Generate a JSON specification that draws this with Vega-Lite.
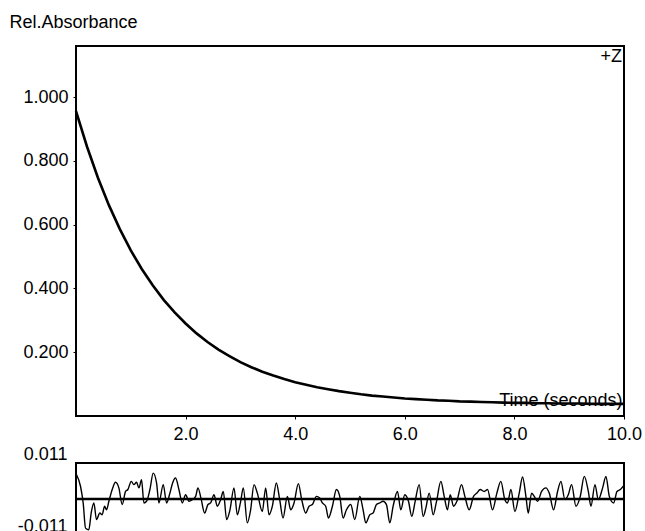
{
  "$schema": "https://vega.github.io/schema/vega-lite/v6.json",
  "background": "white",
  "padding": {"left": 8, "top": 12, "right": 0, "bottom": 0},
  "spacing": 47,
  "bounds": "flush",
  "config": {
    "font": "Liberation Sans",
    "view": {"stroke": "black", "strokeWidth": 2},
    "axis": {"grid": false, "domain": false, "labelFont": "Liberation Sans", "titleFont": "Liberation Sans", "labelColor": "black", "titleColor": "black", "tickColor": "black"}
  },
  "datasets": {
    "fit": [
      {"t":0,"A":0.956},{"t":0.2,"A":0.845},{"t":0.4,"A":0.747},{"t":0.6,"A":0.661},{"t":0.8,"A":0.586},
      {"t":1.0,"A":0.519},{"t":1.2,"A":0.461},{"t":1.4,"A":0.410},{"t":1.6,"A":0.364},{"t":1.8,"A":0.325},
      {"t":2.0,"A":0.290},{"t":2.2,"A":0.259},{"t":2.4,"A":0.232},{"t":2.6,"A":0.208},{"t":2.8,"A":0.188},
      {"t":3.0,"A":0.169},{"t":3.2,"A":0.153},{"t":3.4,"A":0.139},{"t":3.6,"A":0.127},{"t":3.8,"A":0.116},
      {"t":4.0,"A":0.106},{"t":4.2,"A":0.098},{"t":4.4,"A":0.090},{"t":4.6,"A":0.084},{"t":4.8,"A":0.078},
      {"t":5.0,"A":0.073},{"t":5.2,"A":0.068},{"t":5.4,"A":0.064},{"t":5.6,"A":0.061},{"t":5.8,"A":0.058},
      {"t":6.0,"A":0.055},{"t":6.2,"A":0.053},{"t":6.4,"A":0.051},{"t":6.6,"A":0.049},{"t":6.8,"A":0.048},
      {"t":7.0,"A":0.046},{"t":7.2,"A":0.045},{"t":7.4,"A":0.044},{"t":7.6,"A":0.043},{"t":7.8,"A":0.042},
      {"t":8.0,"A":0.041},{"t":8.2,"A":0.041},{"t":8.4,"A":0.040},{"t":8.6,"A":0.040},{"t":8.8,"A":0.039},
      {"t":9.0,"A":0.039},{"t":9.2,"A":0.039},{"t":9.4,"A":0.038},{"t":9.6,"A":0.038},{"t":9.8,"A":0.038},
      {"t":10.0,"A":0.038}
    ],
    "resid": [
      {"t":0.01,"r":0.0074},{"t":0.082,"r":0.0039},{"t":0.131,"r":-0.0012},{"t":0.174,"r":-0.0089},{"t":0.234,"r":-0.0094},
      {"t":0.277,"r":-0.0043},{"t":0.326,"r":-0.0012},{"t":0.374,"r":-0.0063},{"t":0.435,"r":-0.0043},{"t":0.478,"r":-0.0048},
      {"t":0.521,"r":-0.0022},{"t":0.557,"r":-0.0033},{"t":0.600,"r":-0.0007},{"t":0.661,"r":0.0029},{"t":0.721,"r":0.0051},
      {"t":0.782,"r":0.0034},{"t":0.843,"r":-0.0017},{"t":0.904,"r":0.0023},{"t":0.947,"r":0.0029},{"t":1.008,"r":0.0054},
      {"t":1.056,"r":0.0044},{"t":1.105,"r":0.0051},{"t":1.148,"r":0.0034},{"t":1.196,"r":0.0059},{"t":1.239,"r":-0.0012},
      {"t":1.288,"r":-0.0007},{"t":1.349,"r":0.0029},{"t":1.409,"r":0.0079},{"t":1.470,"r":0.0049},{"t":1.513,"r":-0.0012},
      {"t":1.592,"r":0.0044},{"t":1.653,"r":-0.0012},{"t":1.714,"r":0.0018},{"t":1.763,"r":0.0049},{"t":1.817,"r":0.0064},
      {"t":1.878,"r":0.0029},{"t":1.939,"r":-0.0012},{"t":2.000,"r":0.0013},{"t":2.061,"r":-0.0007},{"t":2.122,"r":-0.0002},
      {"t":2.183,"r":0.0008},{"t":2.225,"r":0.0034},{"t":2.286,"r":-0.0002},{"t":2.347,"r":-0.0043},{"t":2.408,"r":-0.0017},
      {"t":2.457,"r":-0.0012},{"t":2.518,"r":0.0013},{"t":2.578,"r":-0.0022},{"t":2.639,"r":-0.0002},{"t":2.688,"r":0.0023},
      {"t":2.749,"r":-0.0063},{"t":2.810,"r":-0.0033},{"t":2.883,"r":0.0034},{"t":2.944,"r":-0.0048},{"t":3.005,"r":-0.0007},
      {"t":3.053,"r":0.0034},{"t":3.126,"r":-0.0073},{"t":3.187,"r":-0.0033},{"t":3.248,"r":0.0044},{"t":3.309,"r":0.0018},
      {"t":3.400,"r":-0.0038},{"t":3.461,"r":0.0034},{"t":3.522,"r":-0.0048},{"t":3.583,"r":-0.0022},{"t":3.656,"r":0.0049},
      {"t":3.717,"r":-0.0002},{"t":3.778,"r":-0.0058},{"t":3.857,"r":0.0008},{"t":3.918,"r":-0.0033},{"t":3.979,"r":-0.0012},
      {"t":4.058,"r":0.0047},{"t":4.119,"r":-0.0002},{"t":4.192,"r":-0.0043},{"t":4.253,"r":-0.0022},{"t":4.314,"r":-0.0017},
      {"t":4.387,"r":0.0008},{"t":4.447,"r":0.0003},{"t":4.496,"r":-0.0012},{"t":4.557,"r":-0.0022},{"t":4.606,"r":-0.0058},
      {"t":4.679,"r":-0.0022},{"t":4.752,"r":0.0029},{"t":4.813,"r":0.0008},{"t":4.874,"r":-0.0058},{"t":4.935,"r":-0.0033},
      {"t":5.014,"r":-0.0017},{"t":5.087,"r":-0.0063},{"t":5.178,"r":0.0008},{"t":5.239,"r":-0.0033},{"t":5.288,"r":-0.0073},
      {"t":5.361,"r":-0.0048},{"t":5.422,"r":-0.0043},{"t":5.482,"r":-0.0017},{"t":5.543,"r":-0.0012},{"t":5.604,"r":-0.0007},
      {"t":5.665,"r":-0.0017},{"t":5.726,"r":-0.0073},{"t":5.787,"r":-0.0022},{"t":5.866,"r":0.0023},{"t":5.927,"r":-0.0033},
      {"t":6.000,"r":0.0013},{"t":6.067,"r":-0.0007},{"t":6.128,"r":-0.0053},{"t":6.189,"r":-0.0007},{"t":6.262,"r":0.0044},
      {"t":6.335,"r":-0.0053},{"t":6.384,"r":-0.0028},{"t":6.445,"r":0.0018},{"t":6.518,"r":-0.0048},{"t":6.579,"r":-0.0007},
      {"t":6.658,"r":0.0054},{"t":6.719,"r":0.0008},{"t":6.779,"r":-0.0033},{"t":6.828,"r":0.0013},{"t":6.889,"r":-0.0022},
      {"t":6.950,"r":-0.0007},{"t":7.035,"r":0.0044},{"t":7.096,"r":0.0008},{"t":7.175,"r":-0.0033},{"t":7.254,"r":0.0008},
      {"t":7.315,"r":0.0018},{"t":7.376,"r":0.0029},{"t":7.449,"r":0.0023},{"t":7.510,"r":0.0029},{"t":7.601,"r":-0.0033},
      {"t":7.680,"r":0.0018},{"t":7.753,"r":0.0054},{"t":7.826,"r":-0.0002},{"t":7.875,"r":-0.0012},{"t":7.936,"r":0.0029},
      {"t":8.009,"r":-0.0038},{"t":8.088,"r":0.0018},{"t":8.149,"r":0.0067},{"t":8.210,"r":0.0008},{"t":8.253,"r":-0.0043},
      {"t":8.313,"r":0.0018},{"t":8.362,"r":0.0008},{"t":8.423,"r":-0.0007},{"t":8.496,"r":0.0023},{"t":8.575,"r":0.0034},
      {"t":8.636,"r":0.0018},{"t":8.715,"r":-0.0033},{"t":8.788,"r":0.0023},{"t":8.849,"r":0.0054},{"t":8.922,"r":-0.0002},
      {"t":8.983,"r":0.0013},{"t":9.044,"r":0.0044},{"t":9.123,"r":-0.0022},{"t":9.202,"r":0.0008},{"t":9.275,"r":0.0069},
      {"t":9.349,"r":0.0023},{"t":9.397,"r":-0.0022},{"t":9.470,"r":0.0044},{"t":9.531,"r":-0.0002},{"t":9.610,"r":0.0034},
      {"t":9.671,"r":0.0069},{"t":9.732,"r":0.0008},{"t":9.811,"r":-0.0012},{"t":9.872,"r":0.0023},{"t":9.933,"r":0.0029},
      {"t":9.994,"r":0.0041}
    ],
    "label": [{"t":10,"A":1.16,"txt":"+Z"}],
    "zero": [{"r":0}]
  },
  "vconcat": [
    {
      "width": 548,
      "height": 370,
      "layer": [
        {
          "data": {"name": "fit"},
          "mark": {"type": "line", "color": "black", "strokeWidth": 2.6},
          "encoding": {
            "x": {"field": "t", "type": "quantitative", "scale": {"domain": [0, 10], "nice": false, "zero": false},
              "axis": {"values": [2, 4, 6, 8, 10], "format": ".1f", "tickSize": 3, "labelPadding": 6, "labelFontSize": 18, "labelFlush": false,
                "title": "Time (seconds)", "titleFontSize": 18, "titleFontWeight": "normal", "titleAnchor": "end", "titleAlign": "right", "titleBaseline": "alphabetic", "titleX": 546, "titleY": -11}},
            "y": {"field": "A", "type": "quantitative", "scale": {"domain": [0, 1.16], "nice": false},
              "axis": {"values": [0.2, 0.4, 0.6, 0.8, 1.0], "format": ".3f", "tickSize": 3, "labelPadding": 5, "labelFontSize": 18,
                "title": "Rel.Absorbance", "titleFontSize": 18, "titleFontWeight": "normal", "titleAngle": 0, "titleAlign": "left", "titleBaseline": "top", "titleX": -67, "titleY": -33}}
          }
        },
        {
          "data": {"name": "label"},
          "mark": {"type": "text", "align": "right", "baseline": "top", "fontSize": 18, "dx": -2, "dy": 2, "color": "black"},
          "encoding": {
            "x": {"field": "t", "type": "quantitative"},
            "y": {"field": "A", "type": "quantitative"},
            "text": {"field": "txt"}
          }
        }
      ]
    },
    {
      "width": 548,
      "height": 72,
      "layer": [
        {
          "data": {"name": "resid"},
          "mark": {"type": "line", "color": "black", "strokeWidth": 1.4, "interpolate": "monotone"},
          "encoding": {
            "x": {"field": "t", "type": "quantitative", "scale": {"domain": [0, 10], "nice": false, "zero": false}, "axis": null},
            "y": {"field": "r", "type": "quantitative", "scale": {"domain": [-0.011, 0.011], "nice": false},
              "axis": {"values": [-0.011, 0.011], "format": ".3f", "labelExpr": "replace(datum.label, '\u2212', '-')", "ticks": false, "labelPadding": 9, "labelFontSize": 18, "labelBaseline": "bottom", "labelFlush": false, "title": null}}
          }
        },
        {
          "data": {"name": "zero"},
          "mark": {"type": "rule", "color": "black", "strokeWidth": 2.5},
          "encoding": {"y": {"field": "r", "type": "quantitative"}}
        }
      ]
    }
  ]
}
